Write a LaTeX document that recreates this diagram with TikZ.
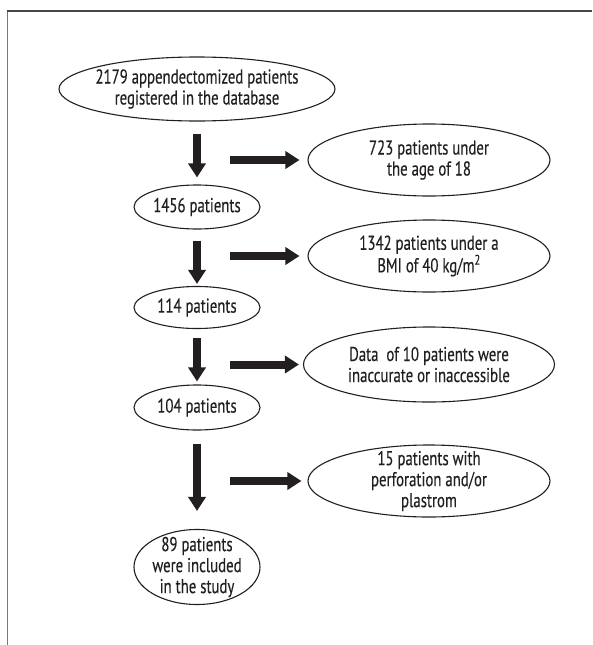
\documentclass[tikz,border=0pt]{standalone}
\usepackage{fontspec}
\setmainfont{PT Sans}[FakeStretch=0.74, FakeBold=0.3]
\usetikzlibrary{shapes.geometric}
\usetikzlibrary{arrows.meta}
\usetikzlibrary{positioning}
\definecolor{frame-gray}{RGB}{120,120,120}
\definecolor{frame-dark}{RGB}{70,70,70}
\definecolor{ink-black}{RGB}{35,31,32}
\definecolor{text-gray}{RGB}{35,31,32}

\tikzset{
  oval/.style={draw=ink-black, line width=1.1pt, ellipse, inner sep=0pt},
  caption/.style={text=text-gray, align=center, inner sep=0pt, font=\fontsize{20}{21}\selectfont},
  blockarrow/.style={draw=ink-black, line width=8pt, -{Triangle[width=17pt,length=14pt]}}
}

\begin{document}
\begin{tikzpicture}[x=1pt, y=-1pt]
\useasboundingbox (0,0) rectangle (592,645);
% frame
\draw[frame-gray, line width=1.6pt] (7.5,645) -- (7.5,11);
\draw[frame-dark, line width=1.6pt] (6.7,11) -- (592,11);

% left column
\node[oval, minimum width=276pt, minimum height=64pt, label={[caption]center:{2179 appendectomized patients\\registered in the database}}] (all) at (197,89) {};
\node[oval, minimum width=126pt, minimum height=44pt, label={[caption]center:1456 patients}] (n1456) at (197,207) {};
\node[oval, minimum width=126pt, minimum height=42pt, label={[caption]center:114 patients}] (n114) at (197,307.5) {};
\node[oval, minimum width=126pt, minimum height=45pt, label={[caption]center:104 patients}] (n104) at (197,407.5) {};
\node[oval, minimum width=126pt, minimum height=75pt, label={[caption]center:{89 patients\\were included\\in the study}}] (included) at (197,567) {};

% right column
\node[oval, minimum width=242pt, minimum height=72pt, label={[caption]center:{723 patients under\\the age of 18}}] (under18) at (429,160) {};
\node[oval, minimum width=242pt, minimum height=72pt, label={[caption]center:{1342 patients under a\\BMI of 40 kg/m\textsuperscript{2}}}] (bmi) at (429,256) {};
\node[oval, minimum width=251pt, minimum height=75pt, label={[caption]center:{Data~ of 10 patients were\\inaccurate or inaccessible}}] (missing) at (429,364.5) {};
\node[oval, minimum width=242pt, minimum height=72pt, label={[caption]center:{15 patients with\\perforation and/or\\plastrom}}] (perf) at (429,481) {};

\coordinate (r1) at (230,160);
\coordinate (r2) at (230,256);
\coordinate (r3) at (230,364.5);
\coordinate (r4) at (230,481);

% arrows
\draw[blockarrow, shorten <=12pt, shorten >=7pt] (all) -- (n1456);
\draw[blockarrow, shorten <=11pt, shorten >=2pt] (n1456) -- (n114);
\draw[blockarrow, shorten <=9pt, shorten >=3pt] (n114) -- (n104);
\draw[blockarrow, shorten <=13pt, shorten >=18pt] (n104) -- (included);
\draw[blockarrow, shorten >=8pt] (r1) -- (under18);
\draw[blockarrow, shorten >=8pt] (r2) -- (bmi);
\draw[blockarrow, shorten >=4pt] (r3) -- (missing);
\draw[blockarrow, shorten >=6pt] (r4) -- (perf);
\end{tikzpicture}
\end{document}
